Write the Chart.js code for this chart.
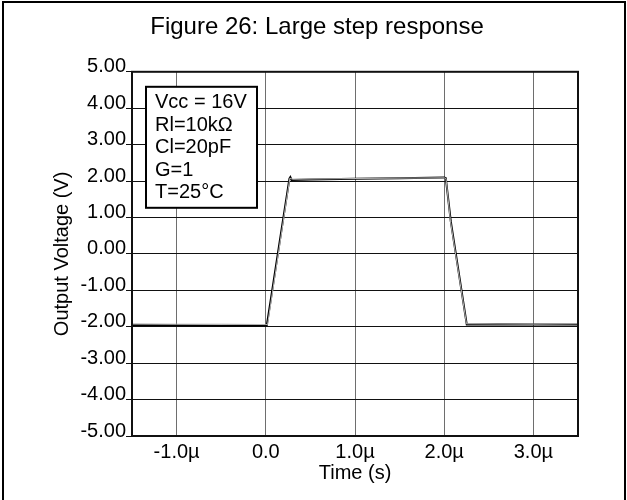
<!DOCTYPE html>
<html>
<head>
<meta charset="utf-8">
<script src="https://cdn.jsdelivr.net/npm/chart.js@4.4.0/dist/chart.umd.min.js"></script>
<style>
  html, body { margin: 0; padding: 0; background: #fff; }
  canvas { display: block; }
</style>
</head>
<body>
<canvas id="c" width="627" height="500"></canvas>
<script>
// ---- data (time in µs, output voltage in V) ----
const timeMain = [-1.5, -1.0, -0.5, 0.0, 0.011, 0.07, 0.15, 0.265, 0.275, 0.29, 0.5, 1.0, 1.5, 2.0, 2.018, 2.074, 2.15, 2.253, 2.3, 2.6, 3.0, 3.5];
const voltMain = [-1.96, -1.96, -1.97, -1.96, -1.96, -1.03, 0.25, 2.07, 2.11, 2.03, 2.04, 2.06, 2.08, 2.10, 2.08, 0.89, -0.31, -1.94, -1.94, -1.93, -1.94, -1.94];
const timeGray = [-1.5, -1.0, -0.5, 0.0, 0.02, 0.27, 0.3, 1.0, 2.0, 2.02, 2.07, 2.25, 2.3, 3.0, 3.5];
const voltGray = [-1.92, -1.93, -1.93, -1.94, -1.94, 2.08, 2.05, 2.07, 2.09, 2.07, 0.9, -1.92, -1.92, -1.93, -1.92];
const xTickValues = [-1, 0, 1, 2, 3];
const xTickLabels = ['-1.0µ', '0.0', '1.0µ', '2.0µ', '3.0µ'];
const yTickValues = [-5, -4, -3, -2, -1, 0, 1, 2, 3, 4, 5];
const yTickLabels = ['-5.00', '-4.00', '-3.00', '-2.00', '-1.00', '0.00', '1.00', '2.00', '3.00', '4.00', '5.00'];
const noteLines = ['Vcc = 16V', 'Rl=10kΩ', 'Cl=20pF', 'G=1', 'T=25°C'];
const titleText = 'Figure 26: Large step response';
const xTitle = 'Time (s)';
const yTitle = 'Output Voltage (V)';

const FONT = "'Liberation Sans', Arial, Helvetica, sans-serif";

const toPts = (xs, ys) => xs.map((x, i) => ({ x: x, y: ys[i] }));

const framePlugin = {
  id: 'frame',
  afterDraw(chart) {
    const ctx = chart.ctx;
    const a = chart.chartArea;
    ctx.save();
    // note box
    const bx = a.left + 14, by = a.top + 15, bw = 111, bh = 121;
    ctx.fillStyle = '#fff';
    ctx.fillRect(bx, by, bw, bh);
    ctx.strokeStyle = '#000';
    ctx.lineWidth = 2;
    ctx.strokeRect(bx, by, bw, bh);
    ctx.fillStyle = '#000';
    ctx.font = '20px ' + FONT;
    ctx.textBaseline = 'middle';
    ctx.textAlign = 'left';
    noteLines.forEach((t, i) => ctx.fillText(t, bx + 9, by + 16 + i * 22.5));
    // plot frame
    ctx.strokeStyle = '#111';
    ctx.lineWidth = 2;
    ctx.strokeRect(a.left, a.top, a.right - a.left, a.bottom - a.top);
    // outer figure border
    ctx.strokeStyle = '#000';
    ctx.lineWidth = 2;
    ctx.beginPath();
    ctx.moveTo(3, 500);
    ctx.lineTo(3, 2);
    ctx.lineTo(625, 2);
    ctx.lineTo(625, 500);
    ctx.stroke();
    ctx.restore();
  }
};

new Chart(document.getElementById('c'), {
  type: 'scatter',
  data: {
    datasets: [
      {
        data: toPts(timeGray, voltGray),
        showLine: true,
        borderColor: '#b4b4b4',
        borderWidth: 1,
        pointRadius: 0,
        tension: 0
      },
      {
        data: toPts(timeMain, voltMain),
        showLine: true,
        borderColor: '#000',
        borderWidth: 2,
        pointRadius: 0,
        tension: 0
      }
    ]
  },
  options: {
    responsive: false,
    animation: false,
    devicePixelRatio: 1,
    layout: { padding: { left: 7, right: 0, top: 0, bottom: 0 } },
    plugins: {
      legend: { display: false },
      tooltip: { enabled: false },
      title: {
        display: true,
        text: titleText,
        color: '#000',
        font: { family: FONT, size: 24, weight: 'normal', lineHeight: 1.2 },
        padding: { top: 13, bottom: 30 }
      }
    },
    scales: {
      x: {
        type: 'linear',
        min: -1.5,
        max: 3.5,
        afterFit(s) { s.height = 64; },
        afterBuildTicks(s) { s.ticks = xTickValues.map(v => ({ value: v })); },
        ticks: {
          color: '#000',
          font: { family: FONT, size: 20 },
          padding: 4,
          maxRotation: 0,
          autoSkip: false,
          callback: (v) => { const i = xTickValues.indexOf(v); return i >= 0 ? xTickLabels[i] : ''; }
        },
        grid: { color: '#6e6e6e', lineWidth: 1, drawTicks: false },
        border: { display: false },
        title: {
          display: true,
          text: xTitle,
          color: '#000',
          font: { family: FONT, size: 20 },
          padding: { top: 0, bottom: 15 }
        }
      },
      y: {
        type: 'linear',
        position: 'left',
        min: -5,
        max: 5,
        afterFit(s) { s.width = 125; },
        afterBuildTicks(s) { s.ticks = yTickValues.map(v => ({ value: v })); },
        ticks: {
          color: '#000',
          font: { family: FONT, size: 20 },
          padding: 0,
          labelOffset: -5,
          autoSkip: false,
          callback: (v) => { const i = yTickValues.indexOf(v); return i >= 0 ? yTickLabels[i] : ''; }
        },
        grid: { color: '#111', lineWidth: 1, drawTicks: true, tickLength: 6 },
        border: { display: false },
        title: {
          display: true,
          text: yTitle,
          color: '#000',
          font: { family: FONT, size: 20, lineHeight: 1.2 },
          padding: { top: 43, bottom: 0 }
        }
      },
      yRightSpace: {
        type: 'linear',
        position: 'right',
        min: -5,
        max: 5,
        afterFit(s) { s.width = 49; },
        ticks: { display: false },
        grid: { display: false },
        border: { display: false },
        title: { display: false }
      }
    }
  },
  plugins: [framePlugin]
});
</script>
</body>
</html>
